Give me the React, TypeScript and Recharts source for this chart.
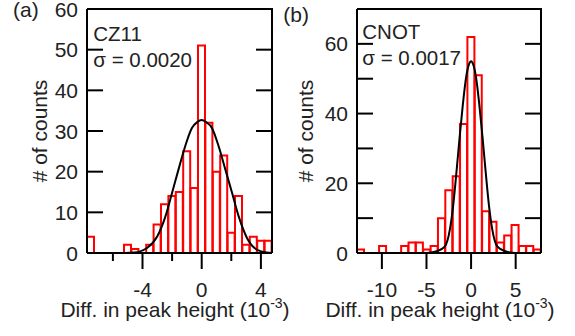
import React from 'react';
import { ComposedChart, Bar, Line, XAxis, YAxis, Customized } from 'recharts';

const FONT = '"Liberation Sans", Arial, Helvetica, sans-serif';
const TXT = '#222';
const CHART_H = 336;
const Y_AXIS_W = 60;
const X_AXIS_H = 83;

// ---------- Panel (a): CZ11 ----------
const binsA = ['-7.5', '-7', '-6.5', '-6', '-5.5', '-5', '-4.5', '-4', '-3.5', '-3', '-2.5', '-2', '-1.5', '-1', '-0.5', '0', '0.5', '1', '1.5', '2', '2.5', '3', '3.5', '4', '4.5'];
const countsA = [4, 0, 0, 0, 0, 2, 1, 0, 2, 7, 12, 14, 15, 25, 16, 51, 32, 20, 24, 5, 14, 2, 4, 3, 3];
const fitXA = [-7.75, -5.2, -4.57, -3.67, -3.0, -2.45, -2.0, -1.57, -1.12, -0.67, -0.3, 0, 0.3, 0.7, 1.15, 1.6, 2.05, 2.5, 3.06, 3.74, 4.4, 4.75];
const fitYA = [0, 0, 0.1, 1.3, 4.1, 9.0, 14.8, 20.5, 26.2, 30.7, 32.2, 32.7, 32.2, 30.7, 26.2, 20.5, 14.8, 9.0, 3.7, 0.8, 0.1, 0];
const xDomainA: [number, number] = [-7.75, 4.75];
const xTicksA = [-6, -4, -2, 0, 2, 4];
const xLabeledA = [-4, 0, 4];
const yTicksA = [0, 10, 20, 30, 40, 50, 60];
const yLabeledA = [0, 10, 20, 30, 40, 50, 60];

// ---------- Panel (b): CNOT ----------
const binsB = ['-12.4', '-11.6', '-10.7', '-9.9', '-9.1', '-8.3', '-7.4', '-6.6', '-5.8', '-5.0', '-4.1', '-3.3', '-2.5', '-1.7', '-0.8', '0', '0.8', '1.7', '2.5', '3.3', '4.1', '5.0', '5.8', '6.6', '7.4'];
const countsB = [1, 0, 0, 2, 0, 0, 2, 3, 3, 1, 2, 10, 18, 22, 37, 62, 51, 12, 9, 3, 5, 8, 2, 2, 1];
const fitXB = [-12.79, -5.0, -3.85, -2.93, -2.38, -2.02, -1.65, -1.28, -0.91, -0.55, -0.25, 0, 0.25, 0.55, 0.91, 1.28, 1.65, 2.02, 2.38, 2.93, 3.85, 5.0, 7.84];
const fitYB = [0, 0, 0.5, 1.9, 6.7, 13.3, 22.9, 33.3, 42.9, 50.5, 54, 55, 54, 50.5, 42.9, 33.3, 22.9, 13.3, 6.7, 1.9, 0.5, 0, 0];
const xDomainB: [number, number] = [-12.79, 7.84];
const xTicksB = [-10, -5, 0, 5];
const xLabeledB = [-10, -5, 0, 5];
const yTicksB = [0, 10, 20, 30, 40, 50, 60];
const yLabeledB = [0, 20, 40, 60];

type Margin = { top: number; right: number; bottom: number; left: number };

type PanelProps = {
  bins: string[];
  counts: number[];
  fitX: number[];
  fitY: number[];
  xDomain: [number, number];
  xTicks: number[];
  xLabeled: number[];
  yMax: number;
  yTicks: number[];
  yLabeled: number[];
  width: number;
  margin: Margin;
  tag: string;
  tagPos: [number, number];
  name: string;
  sigma: string;
  notePos: [number, number];
  xTitleShift: number;
  yTitleGap: number;
};

const Panel = (p: PanelProps) => {
  const data = p.bins.map((b, i) => ({ bin: b, count: p.counts[i] }));
  const fit = p.fitX.map((x, i) => ({ x, y: p.fitY[i] }));

  const xTick = (props: any) => {
    const { x, y, payload } = props;
    const v = payload.value;
    const major = p.xLabeled.includes(v);
    return (
      <g>
        <line x1={x} y1={y} x2={x} y2={y + (major ? 16 : 8)} stroke="#000" strokeWidth={2} />
        {major && (
          <text x={x} y={y + 44} textAnchor="middle" fontSize={21} fontFamily={FONT} fill={TXT}>
            {String(v)}
          </text>
        )}
      </g>
    );
  };
  const yTickLeft = (props: any) => {
    const { x, y, payload } = props;
    const v = payload.value;
    return (
      <g>
        <line x1={x} y1={y} x2={x + 16} y2={y} stroke="#000" strokeWidth={2} />
        {p.yLabeled.includes(v) && (
          <text x={x - 9} y={y} dy="0.36em" textAnchor="end" fontSize={21} fontFamily={FONT} fill={TXT}>
            {String(v)}
          </text>
        )}
      </g>
    );
  };

  const xTitle = (props: any) => {
    const vb = props.viewBox;
    const cx = vb.x + vb.width / 2 + p.xTitleShift;
    return (
      <text x={cx} y={vb.y + 64} textAnchor="middle" fontSize={21} fontFamily={FONT} fill={TXT}>
        Diff. in peak height (10
        <tspan dy={-9.5} fontSize={14}>-3</tspan>
        <tspan dy={9.5}>)</tspan>
      </text>
    );
  };
  const yTitle = (props: any) => {
    const vb = props.viewBox;
    const bx = vb.x + vb.width - p.yTitleGap;
    const cy = vb.y + vb.height / 2;
    return (
      <text x={bx} y={cy} transform={`rotate(-90, ${bx}, ${cy})`} textAnchor="middle" fontSize={21} fontFamily={FONT} fill={TXT}>
        # of counts
      </text>
    );
  };

  // plot-area box: the axes give the left/bottom edges; top/right edges and inward right ticks drawn here
  const L = p.margin.left + Y_AXIS_W;
  const T = p.margin.top;
  const R = p.width - p.margin.right;
  const B = CHART_H - p.margin.bottom - X_AXIS_H;

  const Overlay = () => (
    <g>
      <path d={`M${L},${T} L${R},${T} L${R},${B}`} fill="none" stroke="#000" strokeWidth={2} />
      {p.yTicks.map((v) => {
        const y = B - ((B - T) * v) / p.yMax;
        return <line key={v} x1={R - 16} y1={y} x2={R} y2={y} stroke="#000" strokeWidth={2} />;
      })}
      <g fontFamily={FONT} fill={TXT}>
        <text x={p.tagPos[0]} y={p.tagPos[1]} fontSize={21}>{p.tag}</text>
        <text x={p.notePos[0]} y={p.notePos[1]} fontSize={20.5}>{p.name}</text>
        <text x={p.notePos[0]} y={p.notePos[1] + 26} fontSize={20.5}>{p.sigma}</text>
      </g>
    </g>
  );

  const axisLine = { stroke: '#000', strokeWidth: 2 };

  return (
    <div style={{ position: 'relative', width: p.width, height: CHART_H }}>
      <ComposedChart width={p.width} height={CHART_H} data={data} margin={p.margin} barCategoryGap={0} barGap={0}>
        <XAxis xAxisId="cat" dataKey="bin" type="category" hide height={0} />
        <XAxis
          xAxisId="num"
          dataKey="x"
          type="number"
          domain={p.xDomain}
          allowDataOverflow
          ticks={p.xTicks}
          interval={0}
          height={X_AXIS_H}
          tickSize={0}
          tickMargin={0}
          tickLine={false}
          tick={xTick}
          axisLine={axisLine}
          label={{ content: xTitle }}
        />
        <YAxis
          yAxisId="l"
          type="number"
          domain={[0, p.yMax]}
          allowDataOverflow
          ticks={p.yTicks}
          interval={0}
          width={Y_AXIS_W}
          tickSize={0}
          tickMargin={0}
          tickLine={false}
          tick={yTickLeft}
          axisLine={axisLine}
          label={{ content: yTitle }}
        />
        <Bar xAxisId="cat" yAxisId="l" dataKey="count" fill="none" stroke="#ff0000" strokeWidth={2} isAnimationActive={false} />
        <Line
          xAxisId="num"
          yAxisId="l"
          data={fit}
          dataKey="y"
          type="monotone"
          dot={false}
          activeDot={false}
          stroke="#000"
          strokeWidth={2}
          isAnimationActive={false}
        />
        <Customized component={Overlay} />
      </ComposedChart>
      <svg width={p.width} height={CHART_H} style={{ position: 'absolute', left: 0, top: 0, pointerEvents: 'none' }}>
        <path d={`M${L},${T} L${R},${T} L${R},${B}`} fill="none" stroke="#000" strokeWidth={2} />
      </svg>
    </div>
  );
};

export default function App() {
  return (
    <div style={{ position: 'absolute', left: 0, top: 0, width: 575, height: 336, background: '#fff', overflow: 'hidden' }}>
      <div style={{ position: 'absolute', left: 0, top: 0 }}>
        <Panel
          bins={binsA}
          counts={countsA}
          fitX={fitXA}
          fitY={fitYA}
          xDomain={xDomainA}
          xTicks={xTicksA}
          xLabeled={xLabeledA}
          yMax={60}
          yTicks={yTicksA}
          yLabeled={yLabeledA}
          width={290}
          margin={{ top: 9, right: 18, bottom: 0, left: 27 }}
          tag="(a)"
          tagPos={[13, 16.5]}
          name="CZ11"
          sigma="σ = 0.0020"
          notePos={[93.3, 40.7]}
          xTitleShift={-4.5}
          yTitleGap={40}
        />
      </div>
      <div style={{ position: 'absolute', left: 280, top: 0 }}>
        <Panel
          bins={binsB}
          counts={countsB}
          fitX={fitXB}
          fitY={fitYB}
          xDomain={xDomainB}
          xTicks={xTicksB}
          xLabeled={xLabeledB}
          yMax={70}
          yTicks={yTicksB}
          yLabeled={yLabeledB}
          width={295}
          margin={{ top: 9, right: 34, bottom: 0, left: 17 }}
          tag="(b)"
          tagPos={[3.3, 21.7]}
          name="CNOT"
          sigma="σ = 0.0017"
          notePos={[82.3, 39.3]}
          xTitleShift={-9}
          yTitleGap={44}
        />
      </div>
    </div>
  );
}
